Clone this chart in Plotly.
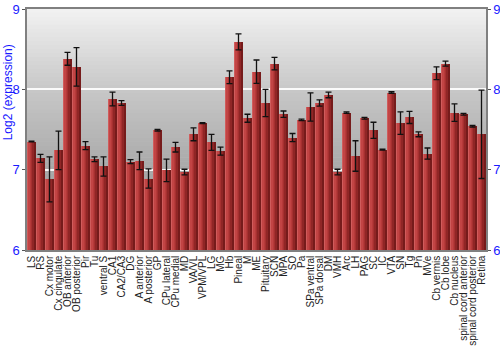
import plotly.graph_objects as go

categories = ["LS", "RS", "Cx motor", "Cx cingulate", "OB anterior", "OB posterior", "Pir", "Tu",
              "ventral S", "CA1", "CA2/CA3", "DG", "A anterior", "A posterior", "GP", "CPu lateral",
              "CPu medial", "MD", "VA/VL", "VPM/VPL", "LG", "MG", "Hb", "Pineal", "M", "ME",
              "Pituitary", "SCN", "MPA", "SO", "Pa", "SPa ventral", "SPa dorsal", "DM", "VMH", "Arc",
              "LH", "PAG", "SC", "IC", "VTA", "SN", "Tg", "Pn", "MVe", "Cb vermis", "Cb lobe",
              "Cb nucleus", "spinal cord anterior", "spinal cord posterior", "Retina"]

expression = [7.35, 7.14, 6.88, 7.24, 8.38, 8.28, 7.30, 7.13,
              7.04, 7.88, 7.83, 7.10, 7.11, 6.89, 7.49, 6.99,
              7.28, 6.97, 7.44, 7.58, 7.34, 7.23, 8.15, 8.59, 7.64, 8.22,
              7.83, 8.32, 7.69, 7.40, 7.62, 7.78, 7.83, 7.93, 6.97, 7.71,
              7.17, 7.64, 7.49, 7.25, 7.96, 7.58, 7.65, 7.44, 7.20, 8.20, 8.32,
              7.71, 7.69, 7.54, 7.44]

error = [0.005, 0.05, 0.28, 0.24, 0.08, 0.24, 0.05, 0.03,
         0.12, 0.085, 0.03, 0.025, 0.11, 0.12, 0.01, 0.14,
         0.06, 0.035, 0.08, 0.005, 0.10, 0.05, 0.08, 0.10, 0.05, 0.145,
         0.17, 0.077, 0.04, 0.05, 0.01, 0.175, 0.04, 0.035, 0.035, 0.01,
         0.19, 0.01, 0.10, 0.005, 0.01, 0.14, 0.075, 0.03, 0.07, 0.08, 0.03,
         0.11, 0.01, 0.01, 0.55]

y_ticks = [6, 7, 8, 9]

fig = go.Figure()

# bars drawn as several narrow vertical slices to imitate the shaded gradient
slice_colors = ["#d05c5c", "#c24444", "#b63a3a", "#a63030", "#902626", "#761b1b"]
n = len(slice_colors)
bar_w = 0.86
sw = bar_w / n
for i, c in enumerate(slice_colors):
    fig.add_trace(go.Bar(
        x=categories, y=expression, width=sw * 1.02, offset=-bar_w / 2 + i * sw,
        marker=dict(color=c, line=dict(width=0)), showlegend=False, hoverinfo="skip"))

# error bars
fig.add_trace(go.Scatter(
    x=categories, y=expression, mode="markers", marker=dict(opacity=0, size=1),
    error_y=dict(type="data", array=error, visible=True, color="#111111", thickness=1.3, width=3),
    showlegend=False))

# invisible trace for the right axis
fig.add_trace(go.Scatter(x=categories, y=expression, yaxis="y2", mode="markers",
                         marker=dict(opacity=0), showlegend=False, hoverinfo="skip"))

# background gradient
stops = [(0.0, 242), (0.33, 200), (0.67, 168), (1.0, 148)]
nb = 60
shapes = []
for k in range(nb):
    t = (k + 0.5) / nb
    for j in range(len(stops) - 1):
        if stops[j][0] <= t <= stops[j + 1][0]:
            a, b = stops[j], stops[j + 1]
            v = a[1] + (b[1] - a[1]) * (t - a[0]) / (b[0] - a[0])
            break
    v = int(round(v))
    shapes.append(dict(type="rect", xref="x domain", yref="y domain",
                       x0=0, x1=1, y0=1 - (k + 1) / nb, y1=1 - k / nb + 0.001,
                       fillcolor=f"rgb({v},{v},{v})", line=dict(width=0), layer="below"))

tickfont = dict(family="Liberation Sans, Arial, sans-serif", size=13, color="#1a1aff")

fig.update_layout(
    width=500, height=350,
    margin=dict(l=27, r=14, t=9, b=100, autoexpand=False),
    paper_bgcolor="white", plot_bgcolor="#c0c0c0",
    barmode="overlay", bargap=0,
    shapes=shapes,
    xaxis=dict(type="category", range=[-0.5, len(categories) - 0.5], tickangle=-90,
               tickmode="linear", dtick=1, automargin=False,
               tickfont=dict(family="Liberation Sans, Arial, sans-serif", size=10, color="#222222"),
               showline=True, linecolor="#808080", linewidth=1.5, mirror=True,
               ticks="", showgrid=False),
    yaxis=dict(range=[6, 9], tickvals=y_ticks, ticks="outside", ticklen=3, tickcolor="#555555",
               tickfont=tickfont, showline=True, linecolor="#808080", linewidth=1.5, automargin=False,
               showgrid=True, gridcolor="rgba(255,255,255,0.9)", gridwidth=1.5, zeroline=False),
    yaxis2=dict(range=[6, 9], tickvals=y_ticks, overlaying="y", side="right", ticks="outside",
                ticklen=3, tickcolor="#555555", tickfont=tickfont, showline=True, automargin=False,
                linecolor="#808080", linewidth=1.5, showgrid=False, zeroline=False),
    annotations=[dict(text="Log2 (expression)", xref="paper", yref="paper", x=-0.041, y=0.655,
                      xanchor="center", yanchor="middle",
                      textangle=-90, showarrow=False,
                      font=dict(family="Liberation Sans, Arial, sans-serif", size=12, color="#1a1aff"))],
)

fig.write_html("out.html")
